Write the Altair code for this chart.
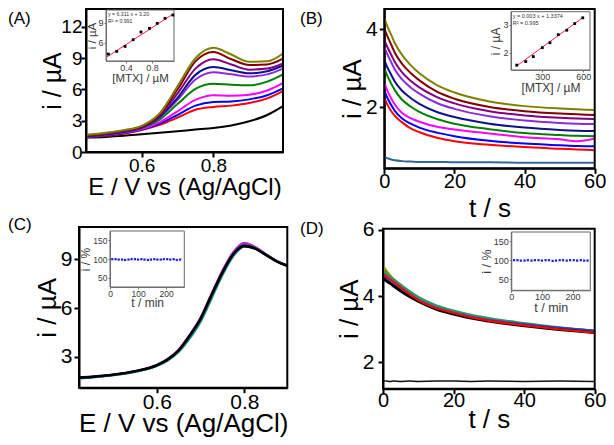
import altair as alt
import pandas as pd

FONT = "Liberation Sans"

# ---------------- (A) DPV curves ----------------
a_potential = [0.445, 0.50, 0.55, 0.60, 0.65, 0.70, 0.75, 0.80, 0.85, 0.90, 0.95, 0.994]
a_black   = [1.40, 1.45, 1.55, 1.70, 1.85, 2.00, 2.15, 2.30, 2.55, 2.95, 3.55, 4.40]
a_red     = [1.40, 1.55, 1.75, 2.10, 2.60, 3.30, 4.05, 4.32, 4.45, 4.70, 5.15, 5.85]
a_blue    = [1.45, 1.60, 1.80, 2.15, 2.70, 3.55, 4.45, 4.80, 4.85, 5.05, 5.45, 6.10]
a_magenta = [1.45, 1.65, 1.85, 2.20, 2.85, 3.90, 5.00, 5.45, 5.40, 5.50, 5.90, 6.60]
a_green   = [1.45, 1.65, 1.90, 2.30, 3.10, 4.60, 6.05, 6.55, 6.45, 6.40, 6.75, 7.45]
a_violet  = [1.50, 1.70, 1.95, 2.35, 3.30, 5.00, 6.95, 7.65, 7.45, 7.25, 7.45, 8.00]
a_navy    = [1.50, 1.70, 1.95, 2.35, 3.35, 5.20, 7.40, 8.15, 7.85, 7.55, 7.75, 8.30]
a_purple  = [1.55, 1.75, 2.00, 2.40, 3.50, 5.60, 8.00, 8.90, 8.40, 7.90, 8.00, 8.50]
a_darkred = [1.60, 1.80, 2.05, 2.45, 3.60, 6.00, 8.70, 9.60, 8.90, 8.35, 8.40, 8.95]
a_olive   = [1.65, 1.85, 2.10, 2.50, 3.70, 6.30, 9.00, 10.00, 9.35, 8.65, 8.70, 9.45]

a_ins_conc    = [0.128, 0.257, 0.385, 0.51, 0.63, 0.76, 0.88, 1.00, 1.12]
a_ins_current = [4.30, 4.70, 5.45, 6.45, 7.60, 8.15, 8.90, 9.65, 10.15]
a_fit_conc    = [0.10, 1.13]
a_fit_current = [3.83, 10.33]
a_equation = ["y = 6.311 x + 3.20", "R\u00b2 = 0.991"]

# ---------------- (B) chronoamperometry ----------------
b_time    = [0, 1, 2, 3, 5, 7.5, 10, 15, 20, 30, 40, 50, 55, 60]
b_steel   = [0.72, 0.69, 0.66, 0.64, 0.62, 0.61, 0.60, 0.60, 0.59, 0.59, 0.58, 0.58, 0.58, 0.58]
b_red     = [2.25, 2.05, 1.90, 1.78, 1.62, 1.46, 1.36, 1.22, 1.13, 1.04, 0.98, 0.94, 0.92, 0.90]
b_blue    = [2.43, 2.22, 2.05, 1.91, 1.72, 1.58, 1.48, 1.35, 1.26, 1.14, 1.07, 1.03, 1.01, 1.00]
b_magenta = [2.62, 2.40, 2.22, 2.07, 1.86, 1.72, 1.63, 1.50, 1.43, 1.33, 1.23, 1.18, 1.13, 1.20]
b_green   = [3.00, 2.78, 2.60, 2.44, 2.20, 2.02, 1.88, 1.70, 1.58, 1.44, 1.34, 1.29, 1.27, 1.26]
b_navy    = [3.21, 3.00, 2.83, 2.66, 2.43, 2.24, 2.09, 1.88, 1.75, 1.58, 1.48, 1.42, 1.40, 1.39]
b_violet  = [3.54, 3.33, 3.15, 2.97, 2.72, 2.51, 2.35, 2.11, 1.96, 1.77, 1.66, 1.60, 1.58, 1.57]
b_purple  = [3.72, 3.52, 3.34, 3.16, 2.90, 2.68, 2.51, 2.26, 2.10, 1.90, 1.79, 1.73, 1.71, 1.70]
b_darkred = [4.02, 3.80, 3.60, 3.40, 3.12, 2.88, 2.69, 2.40, 2.22, 2.01, 1.90, 1.84, 1.82, 1.80]
b_olive   = [4.28, 4.05, 3.85, 3.65, 3.35, 3.08, 2.87, 2.57, 2.38, 2.15, 2.03, 1.97, 1.95, 1.93]

b_ins_conc    = [113, 179, 234, 300, 356, 417, 479, 537, 596]
b_ins_current = [1.55, 1.68, 1.86, 2.18, 2.36, 2.65, 2.81, 3.05, 3.26]
b_fit_conc    = [112, 600]
b_fit_current = [1.52, 3.28]
b_equation = ["y = 0.003 x + 1.3374", "R\u00b2 = 0.995"]

# ---------------- (C) repeated DPV ----------------
c_potential = [0.423, 0.45, 0.50, 0.55, 0.60, 0.625, 0.65, 0.675, 0.70, 0.725, 0.75, 0.775, 0.80, 0.825, 0.85, 0.875, 0.898]
c_magenta = [1.70, 1.76, 1.90, 2.12, 2.50, 2.88, 3.45, 4.35, 5.40, 6.88, 8.30, 9.45, 10.00, 9.75, 9.30, 8.88, 8.62]
c_purple  = [1.72, 1.77, 1.90, 2.11, 2.48, 2.84, 3.40, 4.28, 5.33, 6.80, 8.24, 9.40, 9.95, 9.72, 9.28, 8.87, 8.60]
c_teal    = [1.68, 1.74, 1.88, 2.08, 2.44, 2.78, 3.30, 4.12, 5.15, 6.58, 8.02, 9.20, 9.78, 9.66, 9.28, 8.88, 8.62]
c_green   = [1.70, 1.75, 1.89, 2.10, 2.46, 2.80, 3.34, 4.18, 5.22, 6.65, 8.08, 9.24, 9.80, 9.66, 9.27, 8.86, 8.60]
c_blue    = [1.71, 1.76, 1.90, 2.11, 2.47, 2.83, 3.38, 4.24, 5.28, 6.72, 8.14, 9.28, 9.80, 9.64, 9.25, 8.85, 8.59]
c_black   = [1.73, 1.78, 1.91, 2.12, 2.49, 2.85, 3.41, 4.30, 5.35, 6.80, 8.20, 9.32, 9.82, 9.65, 9.25, 8.85, 8.60]

c_ins_time    = [8, 20, 31, 43, 54, 66, 77, 89, 100, 112, 123, 135, 146, 158, 169, 181, 192, 204, 215, 227, 238, 250]
c_ins_percent = [100, 100, 99, 99, 98, 99, 100, 100, 99, 100, 99, 98, 99, 100, 99, 99, 100, 100, 99, 100, 98, 99]

# ---------------- (D) repeated chronoamperometry ----------------
d_time  = [0, 1, 2, 3, 5, 7.5, 10, 15, 20, 25, 30, 40, 50, 60]
d_blank = [1.45, 1.44, 1.43, 1.44, 1.43, 1.44, 1.43, 1.44, 1.44, 1.43, 1.44, 1.43, 1.44, 1.43]
d_olive = [4.90, 4.75, 4.62, 4.50, 4.30, 4.08, 3.90, 3.66, 3.50, 3.38, 3.28, 3.14, 3.02, 2.90]
d_green = [4.78, 4.68, 4.58, 4.50, 4.34, 4.14, 3.97, 3.72, 3.56, 3.43, 3.33, 3.18, 3.05, 2.95]
d_teal  = [4.72, 4.62, 4.54, 4.46, 4.30, 4.10, 3.93, 3.69, 3.53, 3.40, 3.30, 3.16, 3.04, 2.95]
d_blue  = [4.60, 4.50, 4.42, 4.35, 4.20, 4.02, 3.86, 3.63, 3.48, 3.36, 3.27, 3.14, 3.04, 2.95]
d_black = [4.55, 4.45, 4.38, 4.30, 4.15, 3.98, 3.84, 3.60, 3.45, 3.33, 3.24, 3.10, 2.99, 2.90]
d_red   = [4.68, 4.58, 4.50, 4.42, 4.26, 4.06, 3.88, 3.64, 3.49, 3.36, 3.26, 3.12, 3.00, 2.90]

d_ins_time    = [9, 20, 31, 43, 54, 66, 77, 89, 100, 112, 123, 135, 146, 158, 169, 181, 192, 204, 215, 227, 238, 249]
d_ins_percent = [100, 100, 99, 99, 100, 99, 100, 100, 99, 100, 100, 98, 99, 100, 100, 99, 100, 100, 99, 100, 99, 99]

# ---------------- layout (pixel geometry of each panel) ----------------
H = 429
P = {
    "A":  dict(xd=[0.445, 0.994], xr=[78, 275], yd=[0, 13.72], yr=[144, 1]),
    "Ai": dict(xd=[0.092, 1.138], xr=[98, 166], yd=[3.26, 10.9], yr=[53, 2]),
    "B":  dict(xd=[0, 60], xr=[376.3, 586.7], yd=[0.436, 4.52], yr=[160.3, 1]),
    "Bi": dict(xd=[71, 649], xr=[503, 582], yd=[1.375, 3.48], yr=[62, 3.7]),
    "C":  dict(xd=[0.4226, 0.898], xr=[71, 279.3], yd=[1.113, 10.98], yr=[379.7, 219]),
    "Ci": dict(xd=[0, 265], xr=[102, 176.3], yd=[26, 175], yr=[279, 223]),
    "D":  dict(xd=[0, 60], xr=[375, 586.7], yd=[1.21, 6.03], yr=[380.7, 220.7]),
    "Di": dict(xd=[0, 258], xr=[503.3, 582.3], yd=[21, 174], yr=[282.3, 224]),
}


def sx(k):
    return alt.Scale(domain=P[k]["xd"], range=P[k]["xr"], nice=False, zero=False)


def sy(k):
    return alt.Scale(domain=P[k]["yd"], range=P[k]["yr"], nice=False, zero=False)


def axis(k, orient, values, fmt, title, lsize, tsize, main=True, lpad=2, tpad=0):
    if orient == "bottom":
        off = P[k]["yr"][0] - H
    else:
        off = -P[k]["xr"][0]
    if main:
        col, dcol, w, ts = "black", "black", 2, 5
    else:
        col, dcol, w, ts = "#3a3a3a", "#777777", 1, 2
    return alt.Axis(orient=orient, offset=off, values=values, format=fmt, title=title,
                    labelFont=FONT, titleFont=FONT, labelFontSize=lsize, titleFontSize=tsize,
                    labelColor=col, titleColor=col, domainColor=dcol, tickColor=dcol,
                    domainWidth=w, tickWidth=w, tickSize=ts, grid=False, labelFlush=False,
                    labelOverlap=False, titleFontWeight="normal", labelPadding=lpad,
                    titlePadding=tpad)


def lines(k, xvals, names, ys, colors, xaxis=None, yaxis=None, sw=2.0):
    rows = [{"x": xv, "y": yv, "s": n} for n, yl in zip(names, ys) for xv, yv in zip(xvals, yl)]
    return alt.Chart(pd.DataFrame(rows)).mark_line(strokeWidth=sw, interpolate="monotone").encode(
        x=alt.X("x:Q", scale=sx(k), axis=xaxis),
        y=alt.Y("y:Q", scale=sy(k), axis=yaxis),
        color=alt.Color("s:N", scale=alt.Scale(domain=names, range=colors), legend=None),
    )


def frame(k, color, width):
    df = pd.DataFrame({"x0": [P[k]["xd"][0]], "x1": [P[k]["xd"][1]],
                       "y0": [P[k]["yd"][0]], "y1": [P[k]["yd"][1]]})
    return alt.Chart(df).mark_rect(fillOpacity=0, stroke=color, strokeWidth=width).encode(
        x=alt.X("x0:Q", scale=sx(k), axis=None), x2="x1",
        y=alt.Y("y0:Q", scale=sy(k), axis=None), y2="y1")


def points(k, xv, yv, color, size, xaxis, yaxis):
    df = pd.DataFrame({"x": xv, "y": yv})
    return alt.Chart(df).mark_square(size=size, color=color, opacity=1).encode(
        x=alt.X("x:Q", scale=sx(k), axis=xaxis),
        y=alt.Y("y:Q", scale=sy(k), axis=yaxis))


def fit(k, xv, yv):
    df = pd.DataFrame({"x": xv, "y": yv})
    return alt.Chart(df).mark_line(color="#ff2040", strokeWidth=1).encode(
        x=alt.X("x:Q", scale=sx(k), axis=None),
        y=alt.Y("y:Q", scale=sy(k), axis=None))


def text(t, x, y, size, color="black"):
    return alt.Chart(pd.DataFrame({"t": [t]})).mark_text(
        align="left", baseline="alphabetic", font=FONT, fontSize=size, color=color
    ).encode(text="t:N", x=alt.value(x), y=alt.value(y))


layers = []

# ---- panel A ----
a_names = ["black", "red", "blue", "magenta", "green", "violet", "navy", "purple", "darkred", "olive"]
a_cols = ["#000000", "#ff0000", "#0000ff", "#ff00ff", "#008000", "#8a2be2", "#10108c", "#800080", "#800000", "#808000"]
a_ys = [a_black, a_red, a_blue, a_magenta, a_green, a_violet, a_navy, a_purple, a_darkred, a_olive]
layers.append(lines("A", a_potential, a_names, a_ys, a_cols,
                    xaxis=axis("A", "bottom", [0.6, 0.8], ".1f", "E / V vs (Ag/AgCl)", 19, 24, lpad=-1, tpad=0),
                    yaxis=axis("A", "left", [0, 3, 6, 9, 12], "d", "i / \u00b5A", 19, 25, lpad=-1, tpad=-5)))
layers.append(frame("A", "black", 2))
layers.append(frame("Ai", "#666666", 1))
layers.append(fit("Ai", a_fit_conc, a_fit_current))
layers.append(points("Ai", a_ins_conc, a_ins_current, "black", 8,
                     axis("Ai", "bottom", [0.4, 0.8], ".1f", "[MTX] / \u00b5M", 9, 11.5, main=False, lpad=0),
                     axis("Ai", "left", [6, 9], "d", "i / \u00b5A", 9, 11.5, main=False, lpad=1)))
layers.append(text(a_equation[0], 100, 8, 5.2, "#333333"))
layers.append(text(a_equation[1], 100, 14.5, 5.2, "#333333"))

# ---- panel B ----
b_names = ["steel", "red", "blue", "magenta", "green", "navy", "violet", "purple", "darkred", "olive"]
b_cols = ["#336699", "#ff0000", "#0000ff", "#ff00ff", "#008000", "#10108c", "#8a2be2", "#800080", "#800000", "#808000"]
b_ys = [b_steel, b_red, b_blue, b_magenta, b_green, b_navy, b_violet, b_purple, b_darkred, b_olive]
layers.append(lines("B", b_time, b_names, b_ys, b_cols,
                    xaxis=axis("B", "bottom", [0, 20, 40, 60], "d", "t / s", 20, 26, lpad=-2, tpad=4),
                    yaxis=axis("B", "left", [2, 4], "d", "i / \u00b5A", 21, 26)))
layers.append(frame("B", "black", 2))
layers.append(frame("Bi", "#666666", 1))
layers.append(fit("Bi", b_fit_conc, b_fit_current))
layers.append(points("Bi", b_ins_conc, b_ins_current, "black", 8,
                     axis("Bi", "bottom", [300, 600], "d", "[MTX] / \u00b5M", 9, 12, main=False, lpad=0, tpad=1),
                     axis("Bi", "left", [2, 3], "d", "i / \u00b5A", 9, 12, main=False, lpad=1)))
layers.append(text(b_equation[0], 504.7, 10, 5.5, "#333333"))
layers.append(text(b_equation[1], 504.7, 17, 5.5, "#333333"))

# ---- panel C ----
c_names = ["magenta", "purple", "teal", "green", "blue"]
c_cols = ["#e020e0", "#8040c0", "#20a0a0", "#20a040", "#3050d0"]
layers.append(lines("C", c_potential, c_names, [c_magenta, c_purple, c_teal, c_green, c_blue], c_cols, sw=2.2))
layers.append(lines("C", c_potential, ["black"], [c_black], ["#000000"],
                    xaxis=axis("C", "bottom", [0.6, 0.8], ".1f", "E / V vs (Ag/AgCl)", 21, 26, lpad=-1, tpad=-2),
                    yaxis=axis("C", "left", [3, 6, 9], "d", "i / \u00b5A", 21, 26), sw=2.6))
layers.append(frame("C", "black", 2))
layers.append(frame("Ci", "#666666", 1))
layers.append(points("Ci", c_ins_time, c_ins_percent, "#2020c8", 5,
                     axis("Ci", "bottom", [0, 100, 200], "d", "t / min", 8.5, 12, main=False, lpad=0),
                     axis("Ci", "left", [50, 100, 150], "d", "i / %", 8.5, 12, main=False, lpad=1)))

# ---- panel D ----
d_names = ["olive", "green", "teal", "blue", "black"]
d_cols = ["#a09000", "#30a050", "#2a8a8a", "#2040c0", "#000000"]
layers.append(lines("D", d_time, ["blank"], [d_blank], ["#111111"], sw=1.5))
layers.append(lines("D", d_time, d_names, [d_olive, d_green, d_teal, d_blue, d_black], d_cols, sw=2.6))
layers.append(lines("D", d_time, ["red"], [d_red], ["#ff0000"],
                    xaxis=axis("D", "bottom", [0, 20, 40, 60], "d", "t / s", 20, 26, lpad=-3, tpad=-4),
                    yaxis=axis("D", "left", [2, 4, 6], "d", "i / \u00b5A", 21, 26, lpad=4), sw=2.2))
layers.append(frame("D", "black", 2))
layers.append(frame("Di", "#666666", 1))
layers.append(points("Di", d_ins_time, d_ins_percent, "#2020c8", 5,
                     axis("Di", "bottom", [0, 100, 200], "d", "t / min", 9, 12.5, main=False, lpad=0),
                     axis("Di", "left", [50, 100, 150], "d", "i / %", 9, 12.5, main=False, lpad=1)))

# ---- panel letters ----
layers.append(text("(A)", 0, 15.5, 17))
layers.append(text("(B)", 292, 15.5, 17))
layers.append(text("(C)", 0, 222, 17))
layers.append(text("(D)", 292, 226, 17))

chart = alt.layer(*layers).resolve_scale(
    x="independent", y="independent", color="independent"
).properties(
    width=598, height=429, padding=0, background="white",
    autosize=alt.AutoSizeParams(type="none"),
).configure_view(strokeWidth=0)

chart.save("out.html", embed_options={"renderer": "svg", "actions": False})
